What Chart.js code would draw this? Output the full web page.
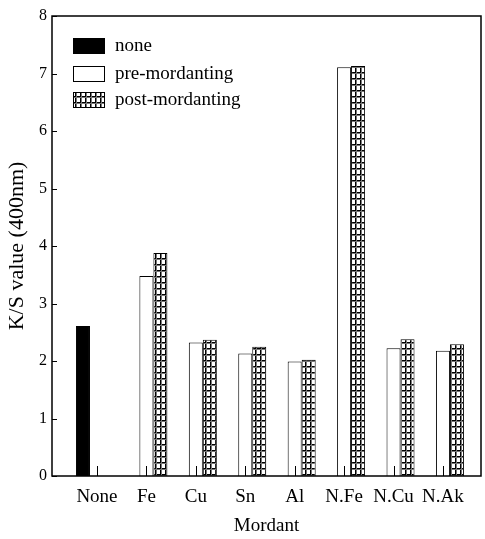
<!DOCTYPE html>
<html><head><meta charset="utf-8">
<script src="https://cdn.jsdelivr.net/npm/chart.js@4"></script>
<style>html,body{margin:0;padding:0;background:#fff}</style>
</head><body>
<canvas id="c" width="485" height="539"></canvas>
<script>
const categories = ['None','Fe','Cu','Sn','Al','N.Fe','N.Cu','N.Ak'];
const noneValues = [2.61, null, null, null, null, null, null, null];
const preValues  = [null, 3.48, 2.32, 2.13, 1.99, 7.11, 2.22, 2.18];
const postValues = [null, 3.88, 2.37, 2.25, 2.02, 7.13, 2.38, 2.29];
const seriesLabels = ['none','pre-mordanting','post-mordanting'];
const yTickValues = [0,1,2,3,4,5,6,7,8];

const FONT = "'Liberation Serif', 'Times New Roman', serif";
Chart.defaults.font.family = FONT;
Chart.defaults.color = '#000';

function gridPattern(){
  const t = document.createElement('canvas');
  t.width = 5; t.height = 6;
  const g = t.getContext('2d');
  g.fillStyle = '#fff'; g.fillRect(0,0,5,6);
  g.fillStyle = '#000'; g.fillRect(0,0,1,6); g.fillRect(0,0,5,1);
  g.fillStyle = '#777'; g.fillRect(1,0,1,6); g.fillRect(0,1,5,1);
  return document.getElementById('c').getContext('2d').createPattern(t,'repeat');
}
const pattern = gridPattern();

const toPts = arr => arr.map((v,i)=>({x:i, y:v}));

const framePlugin = {
  id: 'frame',
  afterDatasetsDraw(chart){
    const {ctx, chartArea:a, scales:{x, y}} = chart;
    ctx.save();
    ctx.strokeStyle = '#000';
    ctx.lineWidth = 1.5;
    ctx.strokeRect(a.left, a.top, a.right - a.left, a.bottom - a.top);
    ctx.lineWidth = 1;
    ctx.beginPath();
    y.ticks.forEach(t => {
      const py = Math.round(y.getPixelForValue(t.value)) + 0.5;
      ctx.moveTo(a.left, py); ctx.lineTo(a.left + 5, py);
    });
    x.ticks.forEach(t => {
      const px = Math.round(x.getPixelForValue(t.value)) + 0.5;
      ctx.moveTo(px, a.bottom); ctx.lineTo(px, a.bottom - 10);
    });
    ctx.stroke();
    // legend
    const rows = [46, 74, 100];
    chart.data.datasets.forEach((ds, i) => {
      const cy = rows[i];
      ctx.fillStyle = ds.backgroundColor;
      ctx.fillRect(73, cy - 8, 32, 16);
      ctx.lineWidth = 1;
      ctx.strokeStyle = '#000';
      ctx.strokeRect(73.5, cy - 7.5, 31, 15);
      ctx.fillStyle = '#000';
      ctx.font = "19px " + FONT;
      ctx.textBaseline = 'middle';
      ctx.textAlign = 'left';
      ctx.fillText(ds.label, 115, cy);
    });
    ctx.restore();
  }
};

new Chart(document.getElementById('c'), {
  type: 'bar',
  data: {
    datasets: [
      {label: seriesLabels[0], data: toPts(noneValues), backgroundColor: '#000', borderColor: '#000', borderWidth: 1},
      {label: seriesLabels[1], data: toPts(preValues), backgroundColor: '#fff', borderColor: '#000', borderWidth: 1},
      {label: seriesLabels[2], data: toPts(postValues), backgroundColor: pattern, borderColor: '#000', borderWidth: 1}
    ]
  },
  options: {
    responsive: false,
    animation: false,
    devicePixelRatio: 1,
    categoryPercentage: 0.85,
    barPercentage: 1,
    layout: {padding: {top: 16, right: 4, left: 0, bottom: 0}},
    plugins: {legend: {display: false}, tooltip: {enabled: false}},
    scales: {
      x: {
        type: 'linear',
        min: -0.91, max: 7.77,
        offset: false,
        bounds: 'data',
        afterBuildTicks: s => { s.ticks = categories.map((c, i) => ({value: i})); },
        afterFit: s => { s.height = 63; s.paddingLeft = 0; s.paddingRight = 0; },
        grid: {display: false, drawTicks: false, offset: false},
        border: {display: false},
        ticks: {
          autoSkip: false, maxRotation: 0,
          padding: 10,
          font: {size: 19},
          callback: v => categories[v] ?? ''
        },
        title: {display: true, text: 'Mordant', font: {size: 19}, padding: {top: 0, bottom: 2}}
      },
      y: {
        min: 0, max: 8,
        afterFit: s => { s.width = 52; },
        afterBuildTicks: s => { s.ticks = yTickValues.map(v => ({value: v})); },
        grid: {display: false, drawTicks: false},
        border: {display: false},
        ticks: {padding: 5, font: {size: 16}},
        title: {display: true, text: 'K/S value (400nm)', font: {size: 22}, padding: {top: 4, bottom: 0}}
      }
    }
  },
  plugins: [framePlugin]
});
</script>
</body></html>
